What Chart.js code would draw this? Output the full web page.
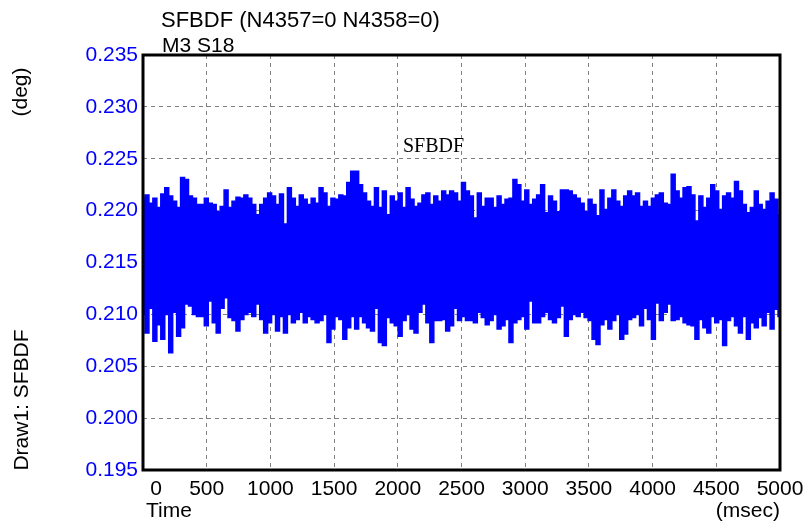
<!DOCTYPE html>
<html>
<head>
<meta charset="utf-8">
<script src="https://cdn.jsdelivr.net/npm/chart.js@4"></script>
<style>
  body { margin: 0; background: #fff; }
  #wrap { width: 811px; height: 524px; }
</style>
</head>
<body>
<div id="wrap"><canvas id="sfbdfChart" width="811" height="524"></canvas></div>
<script>
// Envelope of the SFBDF trace (deg), one column every ~31 ms
const upperDeg = [
  0.2212, 0.2215, 0.2207, 0.2212, 0.2203, 0.2216, 0.2222, 0.2214, 0.2209, 0.2203,
  0.2232, 0.2230, 0.2214, 0.2212, 0.2206, 0.2206, 0.2212, 0.2207, 0.2206, 0.2199,
  0.2204, 0.2220, 0.2203, 0.2209, 0.2213, 0.2212, 0.2215, 0.2212, 0.2206, 0.2196,
  0.2206, 0.2212, 0.2217, 0.2214, 0.2206, 0.2216, 0.2187, 0.2222, 0.2212, 0.2204,
  0.2215, 0.2211, 0.2206, 0.2212, 0.2207, 0.2222, 0.2217, 0.2204, 0.2212, 0.2211,
  0.2215, 0.2214, 0.2227, 0.2238,
  0.2238, 0.2225, 0.2217, 0.2209, 0.2204, 0.2222, 0.2203, 0.2219, 0.2196, 0.2214,
  0.2209, 0.2217, 0.2203, 0.2222, 0.2211, 0.2204, 0.2207, 0.2215, 0.2217, 0.2206,
  0.2214, 0.2209, 0.2219, 0.2215, 0.2219, 0.2217, 0.2209, 0.2227, 0.2219, 0.2214,
  0.2193, 0.2217, 0.2204, 0.2212, 0.2212, 0.2203, 0.2214, 0.2206, 0.2211, 0.2212,
  0.2230, 0.2225, 0.2209, 0.2220, 0.2206, 0.2211, 0.2215, 0.2225, 0.2198, 0.2214,
  0.2209, 0.2199, 0.2220, 0.2220,
  0.2219, 0.2215, 0.2212, 0.2207, 0.2199, 0.2211, 0.2206, 0.2195, 0.2220, 0.2201,
  0.2212, 0.2220, 0.2209, 0.2204, 0.2214, 0.2219, 0.2214, 0.2217, 0.2204, 0.2209,
  0.2204, 0.2212, 0.2215, 0.2217, 0.2207, 0.2206, 0.2235, 0.2219, 0.2212, 0.2222,
  0.2223, 0.2215, 0.2190, 0.2214, 0.2203, 0.2212, 0.2225, 0.2219, 0.2201, 0.2214,
  0.2217, 0.2212, 0.2228, 0.2219, 0.2206, 0.2198, 0.2203, 0.2219, 0.2206, 0.2201,
  0.2209, 0.2217, 0.2211, 0.2196
];
const lowerDeg = [
  0.2100, 0.2082, 0.2106, 0.2074, 0.2090, 0.2076, 0.2100, 0.2063, 0.2102, 0.2079,
  0.2087, 0.2110, 0.2108, 0.2100, 0.2098, 0.2098, 0.2089, 0.2113, 0.2092, 0.2082,
  0.2106, 0.2116, 0.2097, 0.2094, 0.2084, 0.2095, 0.2100, 0.2102, 0.2098, 0.2110,
  0.2095, 0.2082, 0.2092, 0.2100, 0.2084, 0.2098, 0.2082, 0.2100, 0.2092, 0.2095,
  0.2102, 0.2092, 0.2098, 0.2095, 0.2092, 0.2094, 0.2100, 0.2073, 0.2086, 0.2098,
  0.2095, 0.2076, 0.2087, 0.2098,
  0.2086, 0.2098, 0.2092, 0.2087, 0.2084, 0.2106, 0.2073, 0.2070, 0.2097, 0.2092,
  0.2089, 0.2079, 0.2094, 0.2100, 0.2086, 0.2082, 0.2102, 0.2110, 0.2092, 0.2073,
  0.2094, 0.2094, 0.2095, 0.2084, 0.2089, 0.2106, 0.2094, 0.2098, 0.2094, 0.2094,
  0.2092, 0.2102, 0.2097, 0.2090, 0.2094, 0.2100, 0.2086, 0.2089, 0.2095, 0.2073,
  0.2092, 0.2095, 0.2098, 0.2086, 0.2113, 0.2092, 0.2092, 0.2098, 0.2102, 0.2095,
  0.2092, 0.2097, 0.2108, 0.2079,
  0.2095, 0.2100, 0.2098, 0.2102, 0.2097, 0.2094, 0.2076, 0.2071, 0.2090, 0.2095,
  0.2086, 0.2094, 0.2100, 0.2076, 0.2081, 0.2095, 0.2097, 0.2100, 0.2089, 0.2106,
  0.2095, 0.2076, 0.2111, 0.2094, 0.2102, 0.2110, 0.2094, 0.2095, 0.2098, 0.2092,
  0.2090, 0.2089, 0.2076, 0.2095, 0.2087, 0.2082, 0.2098, 0.2092, 0.2095, 0.2070,
  0.2094, 0.2098, 0.2089, 0.2082, 0.2098, 0.2076, 0.2092, 0.2087, 0.2097, 0.2089,
  0.2102, 0.2086, 0.2105, 0.2098
];

const timeMax = 5000;       // msec
const timeStep = 500;
const degMin = 0.195;
const degMax = 0.235;
const degStep = 0.005;

const titleLines = ['SFBDF (N4357=0 N4358=0)', 'M3 S18'];
const seriesName = 'SFBDF';

const FONT = '"Liberation Sans", Arial, sans-serif';
const BLUE = '#0000ff';

// sample times of the envelope columns
function columnPoints(values) {
    const dt = timeMax / (values.length - 1);
    return values.map((v, i) => ({ x: i * dt, y: v }));
}

const frameText = {
    id: 'frameText',
    afterDraw(chart) {
        const ctx = chart.ctx;
        const a = chart.chartArea;
        const xs = chart.scales.x;
        const ys = chart.scales.y;
        ctx.save();

        // frame
        ctx.strokeStyle = '#000';
        ctx.lineWidth = 3;
        ctx.strokeRect(a.left, a.top, a.right - a.left, a.bottom - a.top);

        // y tick labels
        ctx.font = '21px ' + FONT;
        ctx.fillStyle = BLUE;
        ctx.textAlign = 'right';
        ctx.textBaseline = 'middle';
        ys.ticks.forEach(t => {
            ctx.fillText(t.value.toFixed(3), a.left - 5, ys.getPixelForValue(t.value));
        });

        // x tick labels
        ctx.fillStyle = '#000';
        ctx.textAlign = 'center';
        ctx.textBaseline = 'alphabetic';
        xs.ticks.forEach(t => {
            let px = xs.getPixelForValue(t.value);
            if (t.value === 0) px += 13;
            ctx.fillText(String(t.value), px, a.bottom + 25);
        });

        ctx.textAlign = 'left';
        ctx.fillText('Time', 146, 517);
        ctx.textAlign = 'right';
        ctx.fillText('(msec)', 780, 517);

        // titles
        ctx.textAlign = 'left';
        ctx.font = '22px ' + FONT;
        ctx.fillText(titleLines[0], 161, 27);
        ctx.font = '21px ' + FONT;
        ctx.fillText(titleLines[1], 162, 52);

        // series name in the plot
        ctx.font = '20px "Liberation Serif", "Times New Roman", serif';
        ctx.fillText(seriesName, 403, 152);

        // rotated axis titles
        ctx.font = '21px ' + FONT;
        ctx.textAlign = 'center';
        ctx.textBaseline = 'middle';
        ctx.save();
        ctx.translate(21, 92);
        ctx.rotate(-Math.PI / 2);
        ctx.fillText('(deg)', 0, 0);
        ctx.restore();
        ctx.save();
        ctx.translate(22, 400);
        ctx.rotate(-Math.PI / 2);
        ctx.fillText('Draw1: ' + seriesName, 0, 0);
        ctx.restore();

        ctx.restore();
    }
};

new Chart(document.getElementById('sfbdfChart'), {
    type: 'line',
    data: {
        datasets: [{
            label: seriesName + ' max',
            data: columnPoints(upperDeg),
            borderColor: BLUE,
            borderWidth: 1.5,
            stepped: 'middle',
            pointRadius: 0,
            fill: false
        }, {
            label: seriesName + ' min',
            data: columnPoints(lowerDeg),
            borderColor: BLUE,
            backgroundColor: BLUE,
            borderWidth: 1.5,
            stepped: 'middle',
            pointRadius: 0,
            fill: '-1'
        }]
    },
    options: {
        responsive: false,
        animation: false,
        events: [],
        layout: { padding: { left: 0, top: 55, right: 31, bottom: 0 } },
        plugins: { legend: { display: false }, tooltip: { enabled: false } },
        scales: {
            x: {
                type: 'linear',
                min: 0,
                max: timeMax,
                ticks: { display: false, stepSize: timeStep },
                grid: { color: '#808080', lineWidth: 1, drawTicks: false },
                border: { display: false, dash: [4, 4] },
                afterFit(scale) { scale.height = 54; }
            },
            y: {
                min: degMin,
                max: degMax,
                ticks: { display: false, stepSize: degStep },
                grid: { color: '#808080', lineWidth: 1, drawTicks: false },
                border: { display: false, dash: [4, 4] },
                afterFit(scale) { scale.width = 143; }
            }
        }
    },
    plugins: [frameText]
});
</script>
</body>
</html>
